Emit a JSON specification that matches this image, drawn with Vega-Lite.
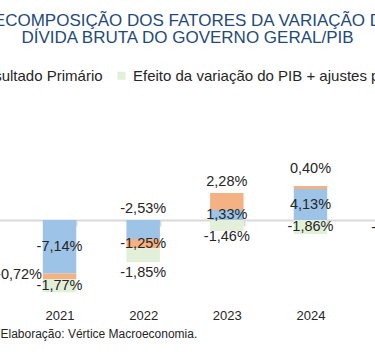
{
  "$schema": "https://vega.github.io/schema/vega-lite/v6.json",
  "width": 375,
  "height": 180,
  "autosize": {"type": "none"},
  "padding": {"left": 0, "top": 115, "right": 0, "bottom": 64},
  "background": "white",
  "title": {
    "text": ["DECOMPOSIÇÃO DOS FATORES DA VARIAÇÃO DA", "DÍVIDA BRUTA DO GOVERNO GERAL/PIB"],
    "anchor": "middle",
    "frame": "group",
    "font": "Liberation Sans",
    "fontSize": 17,
    "fontWeight": 400,
    "lineHeight": 17,
    "color": "#1F4A7A",
    "dy": -17
  },
  "data": {
    "values": [
      {"ano": "2021", "serie": "Juros Nominais", "valor": -7.14},
      {"ano": "2021", "serie": "Resultado Primário", "valor": -0.72},
      {"ano": "2021", "serie": "Efeito da variação do PIB + ajustes patrimoniais", "valor": -1.77},
      {"ano": "2022", "serie": "Juros Nominais", "valor": -2.53},
      {"ano": "2022", "serie": "Resultado Primário", "valor": -1.25},
      {"ano": "2022", "serie": "Efeito da variação do PIB + ajustes patrimoniais", "valor": -1.85},
      {"ano": "2023", "serie": "Juros Nominais", "valor": 1.33},
      {"ano": "2023", "serie": "Resultado Primário", "valor": 2.28},
      {"ano": "2023", "serie": "Efeito da variação do PIB + ajustes patrimoniais", "valor": -1.46},
      {"ano": "2024", "serie": "Juros Nominais", "valor": 4.13},
      {"ano": "2024", "serie": "Resultado Primário", "valor": 0.40},
      {"ano": "2024", "serie": "Efeito da variação do PIB + ajustes patrimoniais", "valor": -1.86},
      {"ano": "2025", "serie": "Efeito da variação do PIB + ajustes patrimoniais", "valor": -2.10}
    ]
  },
  "transform": [
    {"calculate": "indexof(['Juros Nominais','Resultado Primário','Efeito da variação do PIB + ajustes patrimoniais'], datum.serie)", "as": "ord"},
    {"stack": "valor", "groupby": ["ano"], "sort": [{"field": "ord", "order": "ascending"}], "as": ["v0", "v1"], "offset": "zero"},
    {"calculate": "(datum.v0 + datum.v1) / 2", "as": "mid"},
    {"calculate": "max(datum.v0, datum.v1)", "as": "topo"},
    {"calculate": "min(datum.v0, datum.v1)", "as": "base"},
    {"calculate": "format(datum.valor, '.2f') + '%'", "as": "rotulo"}
  ],
  "encoding": {
    "x": {
      "field": "ano",
      "type": "nominal",
      "scale": {"domain": ["2020", "2021", "2022", "2023", "2024", "2025"], "range": [-65.95, 435.95], "paddingInner": 0.6, "paddingOuter": 0.3},
      "axis": {
        "orient": "bottom",
        "offset": -75,
        "domainColor": "#D9D9D9",
        "domainWidth": 2,
        "ticks": true,
        "tickBand": "extent",
        "tickColor": "#D9D9D9",
        "tickWidth": 2,
        "tickSize": 6,
        "labelAngle": 0,
        "labelPadding": 83,
        "labelFont": "Liberation Sans",
        "labelFontSize": 13,
        "labelColor": "#262626",
        "title": "Elaboração: Vértice Macroeconomia.",
        "titleX": 0,
        "titleY": 113,
        "titleAlign": "left",
        "titleBaseline": "middle",
        "titleFont": "Liberation Sans",
        "titleFontSize": 12,
        "titleFontWeight": 400,
        "titleColor": "#262626"
      }
    }
  },
  "layer": [
    {
      "mark": {"type": "bar"},
      "encoding": {
        "y": {"field": "v0", "type": "quantitative", "scale": {"domain": [-10, 14], "nice": false, "zero": false}, "axis": null},
        "y2": {"field": "v1"},
        "color": {
          "field": "serie",
          "type": "nominal",
          "scale": {
            "domain": ["Juros Nominais", "Resultado Primário", "Efeito da variação do PIB + ajustes patrimoniais"],
            "range": ["#9DC3E6", "#F4B183", "#E2F0D9"]
          },
          "legend": {
            "orient": "none",
            "direction": "horizontal",
            "legendX": -178,
            "legendY": -47,
            "title": null,
            "symbolType": "square",
            "symbolSize": 64,
            "symbolStrokeWidth": 0,
            "labelFont": "Liberation Sans",
            "labelFontSize": 15,
            "labelColor": "#262626",
            "labelOffset": 4,
            "columnPadding": 11,
            "labelLimit": 0,
            "padding": 0
          }
        }
      }
    },
    {
      "transform": [{"filter": "(datum.ano == '2021' && datum.ord != 1) || (datum.ano == '2022' && datum.ord == 1) || (datum.ano == '2023' && datum.ord == 0) || (datum.ano == '2024' && datum.ord != 1) || datum.ano == '2025'"}],
      "mark": {"type": "text", "font": "Liberation Sans", "fontSize": 14.5, "color": "#262626", "baseline": "middle"},
      "encoding": {
        "y": {"field": "mid", "type": "quantitative", "scale": {"domain": [-10, 14], "nice": false, "zero": false}, "axis": null},
        "text": {"field": "rotulo"}
      }
    },
    {
      "transform": [{"filter": "(datum.ano == '2022' && datum.ord == 0) || (datum.ano == '2023' && datum.ord == 1)"}],
      "mark": {"type": "text", "font": "Liberation Sans", "fontSize": 14.5, "color": "#262626", "baseline": "middle", "dy": -11},
      "encoding": {
        "y": {"field": "topo", "type": "quantitative", "scale": {"domain": [-10, 14], "nice": false, "zero": false}, "axis": null},
        "text": {"field": "rotulo"}
      }
    },
    {
      "transform": [{"filter": "datum.ano == '2024' && datum.ord == 1"}],
      "mark": {"type": "text", "font": "Liberation Sans", "fontSize": 14.5, "color": "#262626", "baseline": "middle", "dy": -17},
      "encoding": {
        "y": {"field": "topo", "type": "quantitative", "scale": {"domain": [-10, 14], "nice": false, "zero": false}, "axis": null},
        "text": {"field": "rotulo"}
      }
    },
    {
      "transform": [{"filter": "datum.ano == '2022' && datum.ord == 2"}],
      "mark": {"type": "text", "font": "Liberation Sans", "fontSize": 14.5, "color": "#262626", "baseline": "middle", "dy": 10.5},
      "encoding": {
        "y": {"field": "base", "type": "quantitative", "scale": {"domain": [-10, 14], "nice": false, "zero": false}, "axis": null},
        "text": {"field": "rotulo"}
      }
    },
    {
      "transform": [{"filter": "datum.ano == '2023' && datum.ord == 2"}],
      "mark": {"type": "text", "font": "Liberation Sans", "fontSize": 14.5, "color": "#262626", "baseline": "middle", "dy": 6},
      "encoding": {
        "y": {"field": "base", "type": "quantitative", "scale": {"domain": [-10, 14], "nice": false, "zero": false}, "axis": null},
        "text": {"field": "rotulo"}
      }
    },
    {
      "transform": [{"filter": "datum.ano == '2021' && datum.ord == 1"}],
      "mark": {"type": "text", "font": "Liberation Sans", "fontSize": 14.5, "color": "#262626", "baseline": "middle", "align": "right", "dx": -17.5, "dy": -1},
      "encoding": {
        "y": {"field": "mid", "type": "quantitative", "scale": {"domain": [-10, 14], "nice": false, "zero": false}, "axis": null},
        "text": {"field": "rotulo"}
      }
    }
  ],
  "config": {
    "view": {"stroke": null},
    "locale": {"number": {"decimal": ",", "thousands": ".", "grouping": [3], "currency": ["R$", ""], "minus": "-"}}
  }
}
